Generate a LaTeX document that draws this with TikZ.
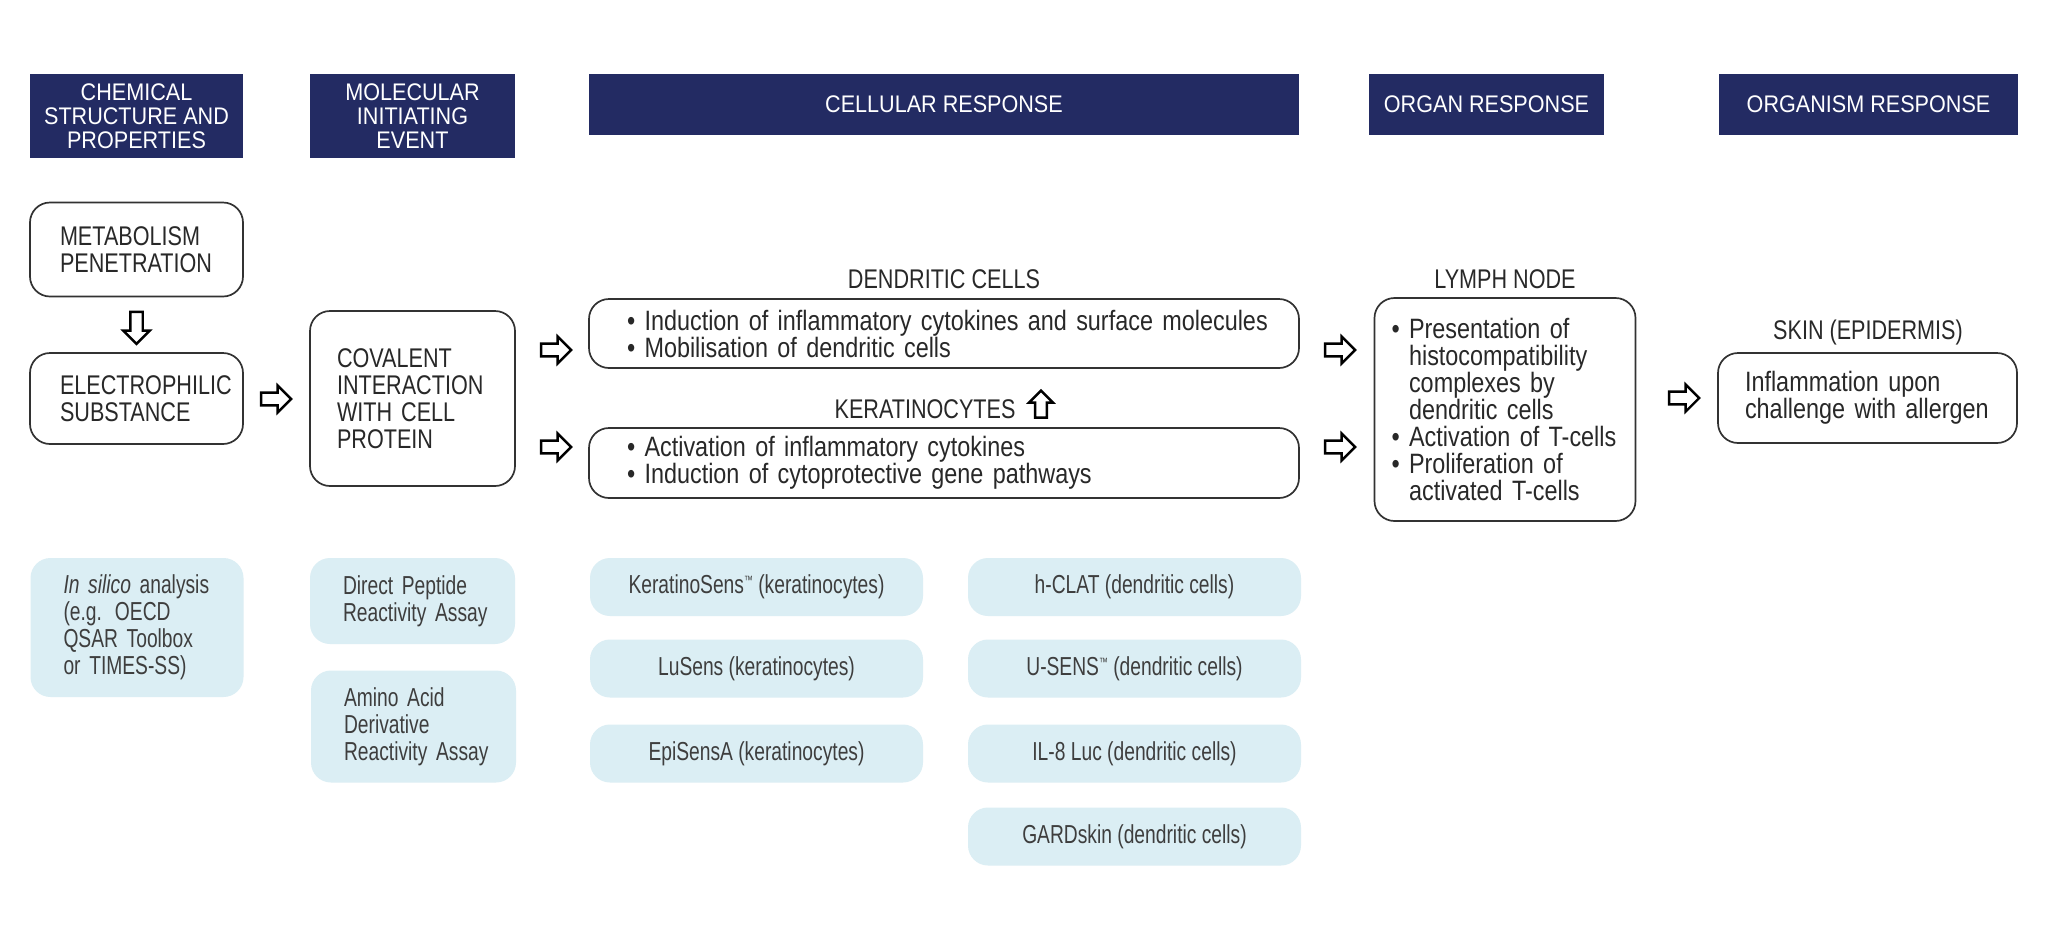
\documentclass[tikz,border=0pt]{standalone}
\usepackage{fontspec}
\setmainfont{Liberation Sans}[FakeStretch=0.836]
\newfontfamily\capf{Liberation Sans}[FakeStretch=0.8]
\newfontfamily\hdrf{Liberation Sans}[FakeStretch=0.9]
\newfontfamily\lightf{Liberation Sans}[FakeStretch=0.74]
\usetikzlibrary{shapes.arrows,calc}
\hyphenpenalty=10000
\exhyphenpenalty=10000
\definecolor{navy}{RGB}{35,43,99}
\definecolor{paleblue}{RGB}{219,238,244}
\definecolor{boxline}{RGB}{50,50,50}
\definecolor{txt}{RGB}{40,40,40}
\definecolor{ltxt}{RGB}{62,62,62}
\newcommand{\bl}{\textbullet\ }
\newcommand{\ind}{\phantom{\textbullet\ }}
\newcommand{\tm}{\raisebox{9pt}{\fontsize{12}{12}\selectfont ™}}
\tikzset{
  hdr/.style={fill=navy, text=white, align=center, inner sep=0pt,
    font=\hdrf\fontsize{24}{24}\selectfont},
  wbox/.style={draw=boxline, line width=1.7pt, rounded corners=20pt, fill=white,
    text=txt, inner ysep=0pt, align=left, font=\fontsize{28}{27}\selectfont},
  wcap/.style={wbox, font=\capf\fontsize{27}{27}\selectfont},
  lbox/.style={fill=paleblue, rounded corners=20pt, text=ltxt, inner ysep=0pt,
    font=\lightf\fontsize{26}{27}\selectfont},
  lbl/.style={text=txt, inner sep=0pt, font=\capf\fontsize{27}{27}\selectfont},
  barrow/.style={single arrow, draw=black, fill=white, line width=2.4pt,
    minimum height=30pt, minimum width=27pt, single arrow head extend=7pt,
    inner sep=5pt, single arrow tip angle=90, anchor=center}
}
\begin{document}
\begin{tikzpicture}[x=1pt,y=-1pt]
\useasboundingbox (0,0) rectangle (2048,932);
\fill[white] (0,0) rectangle (2048,932);

% headers
\node[hdr, minimum width=213pt, minimum height=84pt] (h1) at (136.5,116) {CHEMICAL\\STRUCTURE AND\\PROPERTIES};
\node[hdr, minimum width=205pt, minimum height=84pt] (h2) at (412.5,116) {MOLECULAR\\INITIATING\\EVENT};
\node[hdr, minimum width=710pt, minimum height=61pt] (h3) at (944,104.5) {CELLULAR RESPONSE};
\node[hdr, minimum width=235pt, minimum height=61pt] (h4) at (1486.5,104.5) {ORGAN RESPONSE};
\node[hdr, minimum width=299pt, minimum height=61pt] (h5) at (1868.5,104.5) {ORGANISM RESPONSE};

% chemical column
\node[wcap, minimum width=213pt, minimum height=94pt, inner xsep=30pt, text width=153pt] (met) at (136.5,249.5) {METABOLISM\\PENETRATION};
\node[wcap, minimum width=213pt, minimum height=91pt, inner xsep=30pt, text width=153pt] (el) at (136.5,398.5) {ELECTROPHILIC\\SUBSTANCE};
\node[barrow, shape border rotate=270, minimum height=32pt, minimum width=26pt] (a1) at ($(met.south)!0.5!(el.north)$) {};

% molecular initiating event
\node[wcap, minimum width=205pt, minimum height=175pt, inner xsep=27pt, text width=151pt] (cov) at (412.5,398.5) {COVALENT\\INTERACTION\\WITH CELL\\PROTEIN};
\node[barrow] (a2) at (273,399) {};

% cellular response
\node[lbl] (dcl) at (944,279) {DENDRITIC CELLS};
\node[wbox, minimum width=710pt, minimum height=69pt, inner xsep=38pt, text width=634pt] (dc) at (944,333.5) {\mbox{\bl Induction of inflammatory cytokines and surface molecules}\\\mbox{\bl Mobilisation of dendritic cells}};
\node[lbl] (kcl) at (925,409) {KERATINOCYTES};
\node[barrow, shape border rotate=90, minimum height=27pt, minimum width=24pt, inner sep=4.5pt, single arrow head extend=6pt] (a5) at (1041,407) {};
\node[wbox, minimum width=710pt, minimum height=70pt, inner xsep=38pt, text width=634pt] (kc) at (944,463) {\mbox{\bl Activation of inflammatory cytokines}\\\mbox{\bl Induction of cytoprotective gene pathways}};
\node[barrow] (a3) at (553,350) {};
\node[barrow] (a4) at (553,447) {};

% organ response
\node[barrow] (a6) at (1337,350) {};
\node[barrow] (a7) at (1337,447) {};
\node[lbl] (lnl) at (1505,279) {LYMPH NODE};
\node[wbox, minimum width=261pt, minimum height=223pt, inner xsep=17pt, text width=227pt] (ln) at (1505,409.5) {\mbox{\bl Presentation of}\\\ind histocompatibility\\\mbox{\ind complexes by}\\\mbox{\ind dendritic cells}\\\mbox{\bl Activation of T-cells}\\\mbox{\bl Proliferation of}\\\mbox{\ind activated T-cells}};

% organism response
\node[barrow] (a8) at (1681,398) {};
\node[lbl] (skl) at (1868,333) {SKIN (EPIDERMIS)};
\node[wbox, minimum width=299pt, minimum height=90pt, inner xsep=27pt, text width=245pt] (sk) at (1867.5,398) {\mbox{Inflammation upon}\\\mbox{challenge with allergen}};

% assays
\node[lbox, minimum width=213pt, minimum height=139pt, inner xsep=33pt, text width=147pt, align=left] (ins) at (137,627.5) {\mbox{\textit{In silico} analysis}\\\mbox{(e.g. OECD}\\\mbox{QSAR Toolbox}\\\mbox{or TIMES-SS)}};
\node[lbox, minimum width=205pt, minimum height=86pt, inner xsep=33pt, text width=139pt, align=left] (dpra) at (412.5,601) {\mbox{Direct Peptide}\\\mbox{Reactivity Assay}};
\node[lbox, minimum width=205pt, minimum height=112pt, inner xsep=33pt, text width=139pt, align=left] (adra) at (413.5,726.5) {\mbox{Amino Acid}\\\mbox{Derivative}\\\mbox{Reactivity Assay}};

\node[lbox, minimum width=333pt, minimum height=58pt, align=center] (ks) at (756.5,587) {KeratinoSens\tm\ (keratinocytes)};
\node[lbox, minimum width=333pt, minimum height=58pt, align=center] (lu) at (756.5,668.5) {LuSens (keratinocytes)};
\node[lbox, minimum width=333pt, minimum height=58pt, align=center] (epi) at (756.5,753.5) {EpiSensA (keratinocytes)};

\node[lbox, minimum width=333pt, minimum height=58pt, align=center] (hc) at (1134.5,587) {h-CLAT (dendritic cells)};
\node[lbox, minimum width=333pt, minimum height=58pt, align=center] (us) at (1134.5,668.5) {U-SENS\tm\ (dendritic cells)};
\node[lbox, minimum width=333pt, minimum height=58pt, align=center] (il) at (1134.5,753.5) {IL-8 Luc (dendritic cells)};
\node[lbox, minimum width=333pt, minimum height=58pt, align=center] (gs) at (1134.5,836.5) {GARDskin (dendritic cells)};
\end{tikzpicture}
\end{document}
